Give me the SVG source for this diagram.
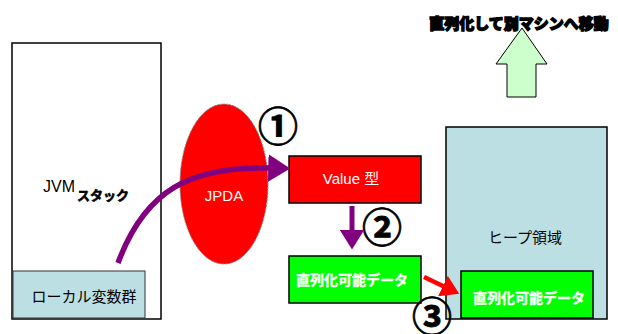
<svg xmlns="http://www.w3.org/2000/svg" width="618" height="334" viewBox="0 0 618 334">
<style>
.t{font-family:"Liberation Sans","Noto Sans CJK JP",sans-serif;}
.w{fill:#fff;font-size:15px;}
.wb{fill:#fff;font-size:14px;font-weight:bold;stroke:#fff;stroke-width:0.4;}
.num{font-family:"Noto Sans CJK JP","DejaVu Sans",sans-serif;font-size:40px;font-weight:bold;fill:#000;stroke:#000;stroke-width:0.8;}
.box{stroke:#000;stroke-width:1.5;}
</style>
<defs>
<marker id="pa" markerWidth="4" markerHeight="5" refX="0.5" refY="2.5" orient="auto" markerUnits="strokeWidth"><path d="M0,0 L4,2.5 L0,5 Z" fill="#800080"/></marker>
<marker id="ra" markerWidth="4" markerHeight="5" refX="0.5" refY="2.5" orient="auto" markerUnits="strokeWidth"><path d="M0,0 L4,2.5 L0,5 Z" fill="#ff0000"/></marker>
</defs>
<rect width="618" height="334" fill="#fff"/>
<g id="jvm-stack">
<rect class="box" x="12" y="43" width="149" height="276" fill="#fff"/>
<text class="t" x="43" y="192" font-size="16" fill="#000">JVM</text>
<text class="t" x="77" y="200" font-size="13" font-weight="bold" fill="#000" stroke="#000" stroke-width="0.6">スタック</text>
</g>
<g id="local-vars">
<rect x="13" y="271" width="132" height="47" fill="#bcdfe3" stroke="#333" stroke-width="1"/>
<text class="t" x="84" y="302" font-size="15" fill="#000" text-anchor="middle">ローカル変数群</text>
</g>
<g id="jpda">
<ellipse cx="224" cy="184" rx="44" ry="80" fill="#ff0000" stroke="#888" stroke-width="1" stroke-dasharray="2,1"/>
<text class="t w" x="224" y="201" text-anchor="middle">JPDA</text>
</g>
<g id="value">
<rect class="box" x="289" y="156" width="132" height="47" fill="#ff0000"/>
<text class="t w" x="351" y="184" text-anchor="middle">Value  型</text>
</g>
<g id="ser1">
<rect class="box" x="289" y="256" width="132" height="47" fill="#00ff00"/>
<text class="t wb" x="352" y="285" text-anchor="middle">直列化可能データ</text>
</g>
<g id="heap">
<rect class="box" x="446" y="127" width="161" height="192" fill="#bcdfe3"/>
<text class="t" x="525" y="243" font-size="15" fill="#000" text-anchor="middle">ヒープ領域</text>
</g>
<g id="ser2">
<rect class="box" x="461" y="271" width="132" height="47" fill="#00ff00"/>
<text class="t wb" x="529" y="303" text-anchor="middle">直列化可能データ</text>
</g>
<g id="move">
<path d="M522,28 L547,64 L536,64 L536,97 L507,97 L507,64 L496,64 Z" fill="#ccffcc" stroke="#000" stroke-width="1"/>
<text class="t" x="519" y="29" font-size="15" font-weight="900" fill="#000" stroke="#000" stroke-width="1.3" text-anchor="middle">直列化して別マシンへ移動</text>
</g>
<g id="labels">
<text class="num" x="278" y="141" text-anchor="middle">①</text>
<text class="num" x="382" y="242" text-anchor="middle">②</text>
<text class="num" x="432" y="331" text-anchor="middle">③</text>
</g>
<g id="connectors">
<path d="M118,263 C145,190 190,166 271,168" fill="none" stroke="#800080" stroke-width="5.5" marker-end="url(#pa)"/>
<line x1="352" y1="206" x2="352" y2="232" stroke="#800080" stroke-width="5" marker-end="url(#pa)"/>
<line x1="424" y1="277" x2="445" y2="287" stroke="#ff0000" stroke-width="4.5" marker-end="url(#ra)"/>
</g>
</svg>
